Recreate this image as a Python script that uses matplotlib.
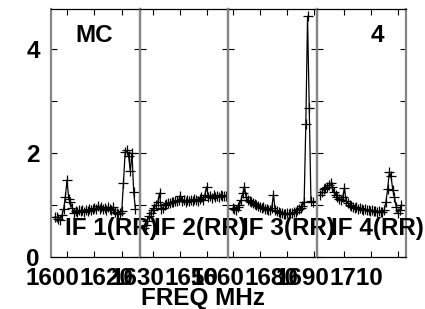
import numpy as np
import matplotlib
matplotlib.use("Agg")
import matplotlib.pyplot as plt
from matplotlib.transforms import ScaledTranslation

# ---- data ----
panel_names = ["IF 1(RR)", "IF 2(RR)", "IF 3(RR)", "IF 4(RR)"]
panel_xlim = [(1594.0, 1626.7), (1625.2, 1658.0), (1658.5, 1691.3), (1690.0, 1722.8)]
chan_range = [(1595.5, 1625.1), (1626.7, 1657.0), (1660.0, 1689.6), (1691.1, 1721.1)]
panel_ticks = [[1600, 1610, 1620], [1630, 1640, 1650], [1660, 1670, 1680, 1690],
               [1690, 1700, 1710, 1720]]
panel_labels = [[1600, 1620], [1630, 1650], [1660, 1680], [1690, 1710]]

amp_if1 = [0.77, 0.76, 0.74, 0.72, 0.80, 0.92, 1.15, 1.48, 1.12, 1.05, 0.95, 0.85,
           0.88, 0.86, 0.90, 0.88, 0.90, 0.87, 0.91, 0.89, 0.92, 0.90, 0.93, 0.95,
           0.92, 0.98, 0.93, 0.96, 0.92, 0.94, 0.90, 0.96, 0.93, 0.90, 0.96, 0.86,
           0.84, 0.82, 0.84, 0.88, 1.42, 2.02, 2.05, 1.95, 1.65, 2.00, 1.25, 0.93]
amp_if2 = [0.55, 0.62, 0.70, 0.78, 0.85, 0.90, 0.95, 1.00, 1.05, 1.23, 0.92, 0.95,
           1.00, 1.02, 1.04, 1.03, 1.06, 1.05, 1.08, 1.07, 1.10, 1.18, 1.08, 1.10,
           1.06, 1.10, 1.08, 1.10, 1.07, 1.12, 1.10, 1.08, 1.12, 1.15, 1.10, 1.20,
           1.35, 1.15, 1.18, 1.14, 1.20, 1.16, 1.18, 1.15, 1.20, 1.17, 1.18, 1.17]
amp_if3 = [0.94, 0.92, 0.90, 0.96, 1.00, 1.10, 1.23, 1.35, 1.15, 1.10, 1.07, 1.05,
           1.04, 1.02, 1.00, 0.98, 0.97, 0.95, 0.96, 0.92, 0.93, 0.90, 0.91, 0.95,
           1.20, 0.90, 0.88, 0.86, 0.85, 0.84, 0.83, 0.82, 0.84, 0.82, 0.84, 0.85,
           0.86, 0.87, 0.90, 0.92, 0.95, 0.98, 1.05, 2.56, 4.63, 2.86, 1.07, 1.05]
amp_if4 = [1.20, 1.25, 1.30, 1.33, 1.35, 1.38, 1.42, 1.35, 1.25, 1.20, 1.15, 1.12,
           1.10, 1.15, 1.33, 1.08, 1.04, 1.00, 0.98, 0.97, 0.95, 0.96, 0.93, 0.94,
           0.92, 0.91, 0.93, 0.90, 0.90, 0.89, 0.91, 0.88, 0.89, 0.87, 0.88, 0.86,
           0.87, 0.90, 1.05, 1.30, 1.63, 1.55, 1.29, 1.15, 0.96, 0.85, 0.90, 1.00]
amps = [amp_if1, amp_if2, amp_if3, amp_if4]

y_major = [0, 2, 4]
y_minor = [1, 3]
ylim = (0, 4.77)

# ---- figure ----
plt.rcParams['font.family'] = ['Liberation Sans', 'DejaVu Sans']
plt.rcParams['font.weight'] = 'bold'
W, H = 425, 309
fig = plt.figure(figsize=(W / 100, H / 100), dpi=100)

left, right, top, bottom = 51, 406, 9, 257
pw = (right - left) / 4
ph = bottom - top
gray = '#858585'
fs = 17.5

axes = []
for i in range(4):
    ax = fig.add_axes([(left + i * pw) / W, 1 - bottom / H, pw / W, ph / H])
    ax.patch.set_visible(False)
    axes.append(ax)
    f = np.linspace(chan_range[i][0], chan_range[i][1], len(amps[i]))
    ax.plot(f, amps[i], color='black', lw=0.9, marker='+', ms=7, mew=0.9)
    ax.set_xlim(*panel_xlim[i])
    ax.set_ylim(*ylim)
    ax.set_yticks(y_major)
    ax.set_yticks(y_minor, minor=True)
    ax.set_xticks(panel_ticks[i])
    ax.set_xticklabels([str(t) if t in panel_labels[i] else '' for t in panel_ticks[i]],
                       fontsize=fs, fontweight='bold')
    ax.tick_params(axis='both', which='both', direction='in', top=True, right=True,
                   bottom=True, left=True, color='black', width=0.8)
    ax.tick_params(axis='y', which='both', length=4.5)
    ax.tick_params(axis='x', which='both', length=4, pad=7)
    if i == 0:
        ax.set_yticklabels([str(v) for v in y_major], fontsize=fs, fontweight='bold')
        ax.tick_params(axis='y', pad=8)
    else:
        ax.set_yticklabels([])
    for s in ['left', 'right']:
        ax.spines[s].set_color(gray)
        ax.spines[s].set_linewidth(1.6)
    for s in ['top', 'bottom']:
        ax.spines[s].set_color('black')
        ax.spines[s].set_linewidth(0.9)
    off = ScaledTranslation(-15 / 100, 0, fig.dpi_scale_trans)
    for lab in ax.get_xticklabels():
        lab.set_transform(lab.get_transform() + off)
    ax.text(14 / pw, 22 / ph, panel_names[i], transform=ax.transAxes,
            fontsize=fs, fontweight='bold', ha='left', va='baseline', clip_on=False,
            zorder=5)

axes[0].text(24 / pw, 1 - 33 / ph, "MC", transform=axes[0].transAxes,
             fontsize=fs, fontweight='bold', ha='left', va='baseline')
axes[3].text(1 - 35 / pw, 1 - 33 / ph, "4", transform=axes[3].transAxes,
             fontsize=fs, fontweight='bold', ha='left', va='baseline')

fig.text(203 / W, 1 - 298 / H, "FREQ MHz", fontsize=fs, fontweight='bold',
         ha='center', va='center')

fig.savefig('out.png', dpi=100)
